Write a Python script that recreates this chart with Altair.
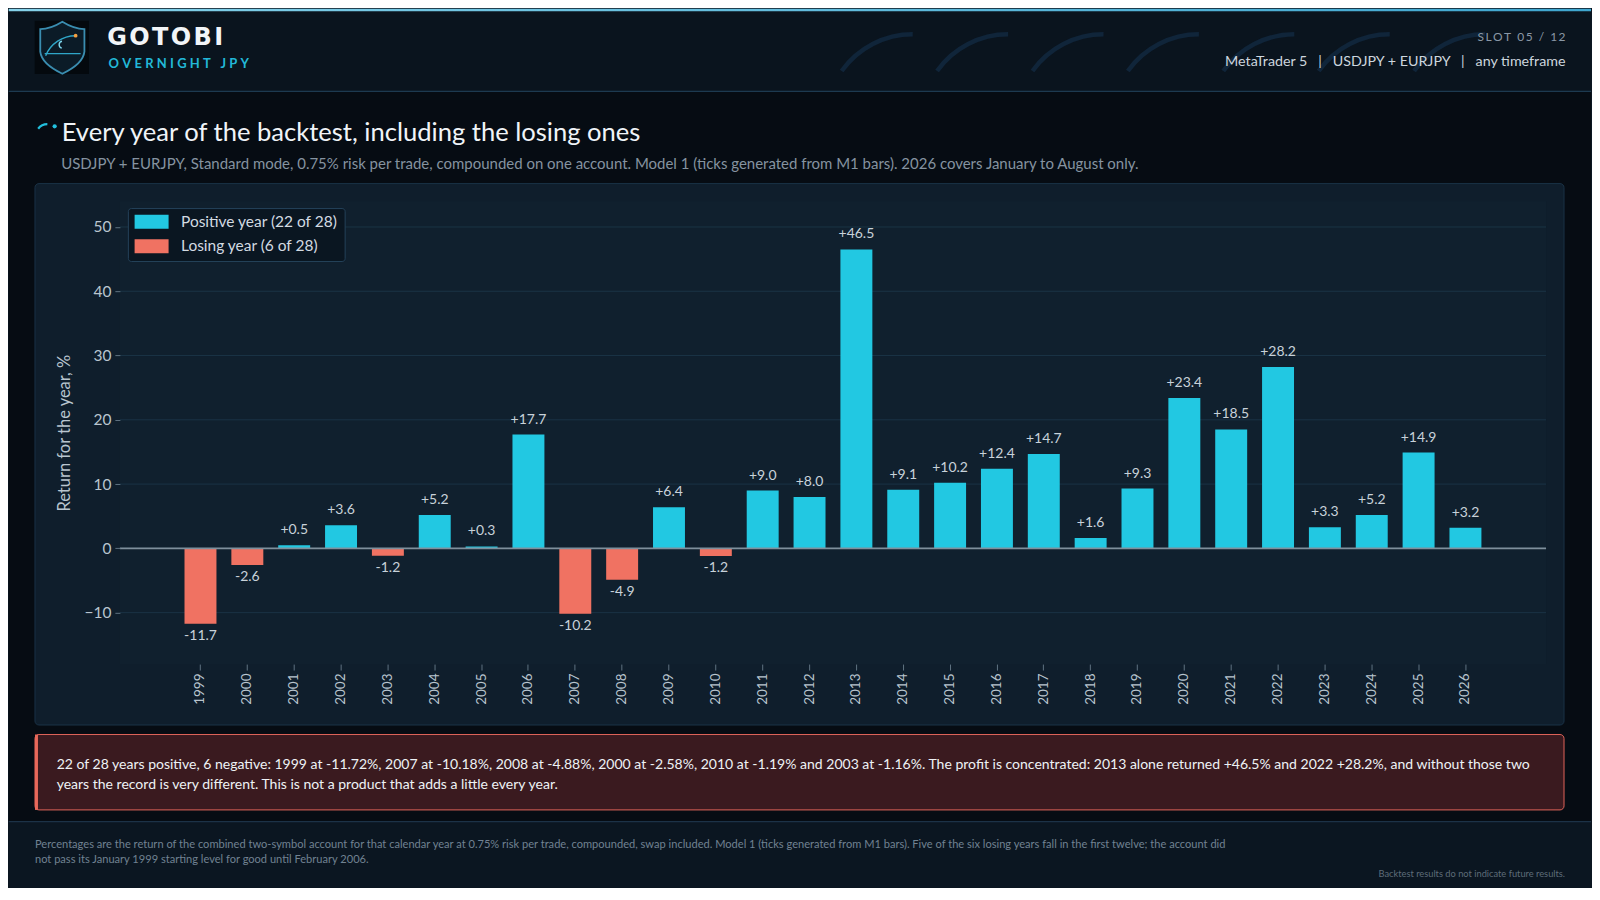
import altair as alt
import pandas as pd

# ---------------- data ----------------
years = ["1999", "2000", "2001", "2002", "2003", "2004", "2005", "2006", "2007", "2008",
         "2009", "2010", "2011", "2012", "2013", "2014", "2015", "2016", "2017", "2018",
         "2019", "2020", "2021", "2022", "2023", "2024", "2025", "2026"]
returns = [-11.72, -2.58, 0.5, 3.6, -1.16, 5.2, 0.3, 17.7, -10.18, -4.88,
           6.4, -1.19, 9.0, 8.0, 46.5, 9.1, 10.2, 12.4, 14.7, 1.6,
           9.3, 23.4, 18.5, 28.2, 3.3, 5.2, 14.9, 3.2]
y_ticks = [-10, 0, 10, 20, 30, 40, 50]

brand = "GOTOBI"
tagline = "OVERNIGHT JPY"
slot = "SLOT 05 / 12"
SEP = "\u00a0\u00a0\u00a0|\u00a0\u00a0\u00a0"
platform = SEP.join(["MetaTrader 5", "USDJPY + EURJPY", "any timeframe"])
title = "Every year of the backtest, including the losing ones"
subtitle = ("USDJPY + EURJPY, Standard mode, 0.75% risk per trade, compounded on one account. "
            "Model 1 (ticks generated from M1 bars). 2026 covers January to August only.")
y_title = "Return for the year, %"
note_lines = [
    "22 of 28 years positive, 6 negative: 1999 at -11.72%, 2007 at -10.18%, 2008 at -4.88%, 2000 at -2.58%, "
    "2010 at -1.19% and 2003 at -1.16%. The profit is concentrated: 2013 alone returned +46.5% and 2022 +28.2%, and without those two",
    "years the record is very different. This is not a product that adds a little every year.",
]
footer_lines = [
    "Percentages are the return of the combined two-symbol account for that calendar year at 0.75% risk per trade, "
    "compounded, swap included. Model 1 (ticks generated from M1 bars). Five of the six losing years fall in the first twelve; the account did",
    "not pass its January 1999 starting level for good until February 2006.",
]
disclaimer = "Backtest results do not indicate future results."

n_pos = sum(1 for v in returns if v > 0)
n_neg = len(returns) - n_pos
POS = f"Positive year ({n_pos} of {len(returns)})"
NEG = f"Losing year ({n_neg} of {len(returns)})"

df = pd.DataFrame({"year": years, "ret": returns})
df["label"] = [f"{v:+.1f}" for v in returns]
df["kind"] = [POS if v > 0 else NEG for v in returns]
grid_df = pd.DataFrame({"v": y_ticks})

# ---------------- style ----------------
FONT = "Lato"
CYAN = "#22c8e2"
SALMON = "#f07262"
BASE = "#0b1621"
LABEL = "#b9c5cf"

# plot area in screen pixels
SX0, SY0 = 119.3, 200.7
W, H = 1427.7, 463.3


def px(sx):
    return sx - SX0


def py(sy):
    return sy - SY0


one = pd.DataFrame({"k": [0]})


def rect(x1, y1, x2, y2, **kw):
    return alt.Chart(one).mark_rect(**kw).encode(
        x=alt.value(px(x1)), x2=alt.value(px(x2)), y=alt.value(py(y1)), y2=alt.value(py(y2)))


def text(sx, sy, s, **kw):
    return alt.Chart(one).mark_text(**kw).encode(
        x=alt.value(px(sx)), y=alt.value(py(sy)), text=alt.value(s))


def hline(x1, x2, sy, color, w=1.0):
    return alt.Chart(one).mark_rule(color=color, strokeWidth=w).encode(
        x=alt.value(px(x1)), x2=alt.value(px(x2)), y=alt.value(py(sy)))


def arc(cx, cy, r_out, r_in, t1, t2, color):
    return alt.Chart(one).mark_arc(color=color).encode(
        x=alt.value(px(cx)), y=alt.value(py(cy)),
        radius=alt.value(r_out), radius2=alt.value(r_in),
        theta=alt.value(t1), theta2=alt.value(t2))


def dot(cx, cy, size, color):
    return alt.Chart(one).mark_point(filled=True, color=color, size=size, opacity=1).encode(
        x=alt.value(px(cx)), y=alt.value(py(cy)))


RIGHT = 1592
BOTTOM = 888
CARD_R = 1565

layers = []
# backgrounds
layers.append(rect(8, 8, RIGHT, BOTTOM, color=BASE))
layers.append(rect(8, 8, RIGHT, 90.7, color="#0a141e"))
layers.append(rect(8, 90.7, RIGHT, 821.7, color="#060c13"))
layers.append(hline(8, RIGHT, 90.7, "#1d3a50", 1.2))
layers.append(hline(8, RIGHT, 821.7, "#1c3247", 1.2))
layers.append(rect(8, 8, RIGHT, 10.5, color=alt.LinearGradient(
    gradient="linear", x1=0, x2=1, y1=0, y2=0,
    stops=[alt.GradientStop(color="#86d2ea", offset=0), alt.GradientStop(color="#3fa6cf", offset=1)])))

# logo
layers.append(rect(34, 20, 88.3, 73.3, color="#04090e"))
shield = ("M0,-1 Q0.45,-0.72 0.85,-0.72 L0.85,0.15 Q0.8,0.62 0,1 Q-0.8,0.62 -0.85,0.15 "
          "L-0.85,-0.72 Q-0.45,-0.72 0,-1 Z")
layers.append(alt.Chart(one).mark_point(shape=shield, size=2704, filled=True, fill="#0b1b27",
                                        stroke="#3a8db0", strokeWidth=1.8, opacity=1).encode(
    x=alt.value(px(61.7)), y=alt.value(py(47))))
layers.append(arc(75, 67.5, 33.2, 31.8, 5.107, 6.283, "#2fa6c8"))
layers.append(arc(62, 44, 4.2, 2.8, 3.4, 6.1, "#7fd8ef"))
layers.append(dot(75, 35, 14, "#f5a142"))
layers.append(hline(44, 80, 53, "#2fa6c8", 1.2))

# brand
hair = "\u200a"
layers.append(text(106.7, 44, hair.join(brand), font="DejaVu Sans", fontWeight="bold", fontSize=24,
                   color="#f2f5f8", align="left", baseline="alphabetic"))
layers.append(text(108, 67.5, "\u2005".join(tagline), font=FONT, fontSize=13, fontWeight="bold",
                   color="#22b8d8", align="left", baseline="alphabetic"))

# decorative arcs
for x0 in [842, 937.5, 1033, 1128.5, 1224, 1319.5, 1415]:
    layers.append(arc(x0 + 71, 120.8, 89.5, 85, 5.33, 6.283, "#10253a"))

# header right
layers.append(text(1566.5, 40.5, "\u2009".join(slot), font=FONT, fontSize=12, color="#8a98a6",
                   align="right", baseline="alphabetic"))
layers.append(text(1566.5, 65, platform, font=FONT, fontSize=14.3, color="#cdd6de",
                   align="right", baseline="alphabetic"))

# title block
layers.append(arc(46.7, 135, 12.6, 10.4, 5.356, 6.283, "#22c0dd"))
layers.append(dot(54, 125.7, 18, "#22c0dd"))
layers.append(text(61, 140.5, title, font=FONT, fontSize=25.6, color="#f0f4f8",
                   align="left", baseline="alphabetic"))
layers.append(text(60.5, 168, subtitle, font=FONT, fontSize=15, color="#8593a0",
                   align="left", baseline="alphabetic"))

# chart card and plot fill
layers.append(rect(34.3, 183, CARD_R, 725, fill="#0f1e2c", stroke="#1a3246", strokeWidth=1, cornerRadius=4))
layers.append(alt.Chart(one).mark_rect(color="#10202e").encode(
    x=alt.value(0), x2=alt.value(W), y=alt.value(0), y2=alt.value(H)))

yscale = alt.Scale(domain=[-18, 54], nice=False, zero=False)
xscale = alt.Scale(range=[64.7, 1363.0], paddingInner=0.318, paddingOuter=0)

xaxis = alt.Axis(labelAngle=270, labelFont=FONT, labelFontSize=13.5, labelColor=LABEL,
                 tickColor="#5f7282", tickSize=6, labelPadding=3, domain=False,
                 grid=False, zindex=1)
yaxis = alt.Axis(values=y_ticks, labelFont=FONT, labelFontSize=15.5, labelColor=LABEL,
                 tickColor="#5f7282", tickSize=5, labelPadding=4, domain=False,
                 grid=False, zindex=1, titleFont=FONT, titleFontSize=16.5,
                 titleFontWeight="normal", titleColor=LABEL, titleAngle=270,
                 titleX=px(64), titleY=H / 2, titleAlign="center",
                 titleBaseline="middle")

layers.append(alt.Chart(grid_df).mark_rule(color="#1a3345", strokeWidth=1).encode(
    y=alt.Y("v:Q", scale=yscale, axis=yaxis, title=y_title)))

xenc = alt.X("year:N", sort=years, title=None, scale=xscale, axis=xaxis)
yenc = alt.Y("ret:Q", scale=yscale, title=y_title, axis=yaxis)

bars = alt.Chart(df).mark_bar().encode(
    x=xenc, y=yenc,
    color=alt.Color("kind:N", scale=alt.Scale(domain=[POS, NEG], range=[CYAN, SALMON]),
                    legend=alt.Legend(title=None, orient="none", legendX=8, legendY=6.8,
                                      direction="vertical", fillColor="#0a1621",
                                      strokeColor="#24425a", padding=6, cornerRadius=3,
                                      symbolType="M-2.43,-1 L2.43,-1 L2.43,1 L-2.43,1 Z",
                                      symbolSize=196, symbolOffset=10, labelOffset=21.7,
                                      rowPadding=7.5, labelFont=FONT, labelFontSize=15.5,
                                      labelColor="#d3dbe2", labelLimit=400,
                                      symbolStrokeWidth=0, symbolOpacity=1)))
layers.append(bars)
layers.append(alt.Chart(one).mark_rule(color="#7f8f9c", strokeWidth=1.6).encode(
    y=alt.YDatum(0, scale=yscale)))

lab_pos = alt.Chart(df).transform_filter("datum.ret > 0").mark_text(
    font=FONT, fontSize=14, color="#c8d2da", baseline="alphabetic", dy=-11).encode(
    x=xenc, y=yenc, text="label:N")
lab_neg = alt.Chart(df).transform_filter("datum.ret < 0").mark_text(
    font=FONT, fontSize=14, color="#c8d2da", baseline="top", dy=5.5).encode(
    x=xenc, y=yenc, text="label:N")
layers += [lab_pos, lab_neg]

# annotation box
layers.append(rect(34.3, 734.5, CARD_R, 810, fill="#3a1a1f", stroke="#e0645a", strokeWidth=1, cornerRadius=4))
layers.append(rect(34.3, 734.5, 37.3, 810, color="#e8685a"))
layers.append(text(56, 769.3, note_lines, font=FONT, fontSize=14.05, lineHeight=20, color="#eef2f5",
                   align="left", baseline="alphabetic"))

# footer
layers.append(text(34.3, 848, footer_lines, font=FONT, fontSize=11.1, lineHeight=15.5, color="#718292",
                   align="left", baseline="alphabetic"))
layers.append(text(1566, 877.5, disclaimer, font=FONT, fontSize=9.3, color="#5e6c79",
                   align="right", baseline="alphabetic"))

chart = alt.layer(*layers).properties(width=W, height=H, padding=0).configure(
    background=BASE, font=FONT
).configure_view(stroke="#1d3a52", strokeWidth=1, fill=None)

chart.save("out.html", embed_options={"renderer": "svg", "actions": False})
